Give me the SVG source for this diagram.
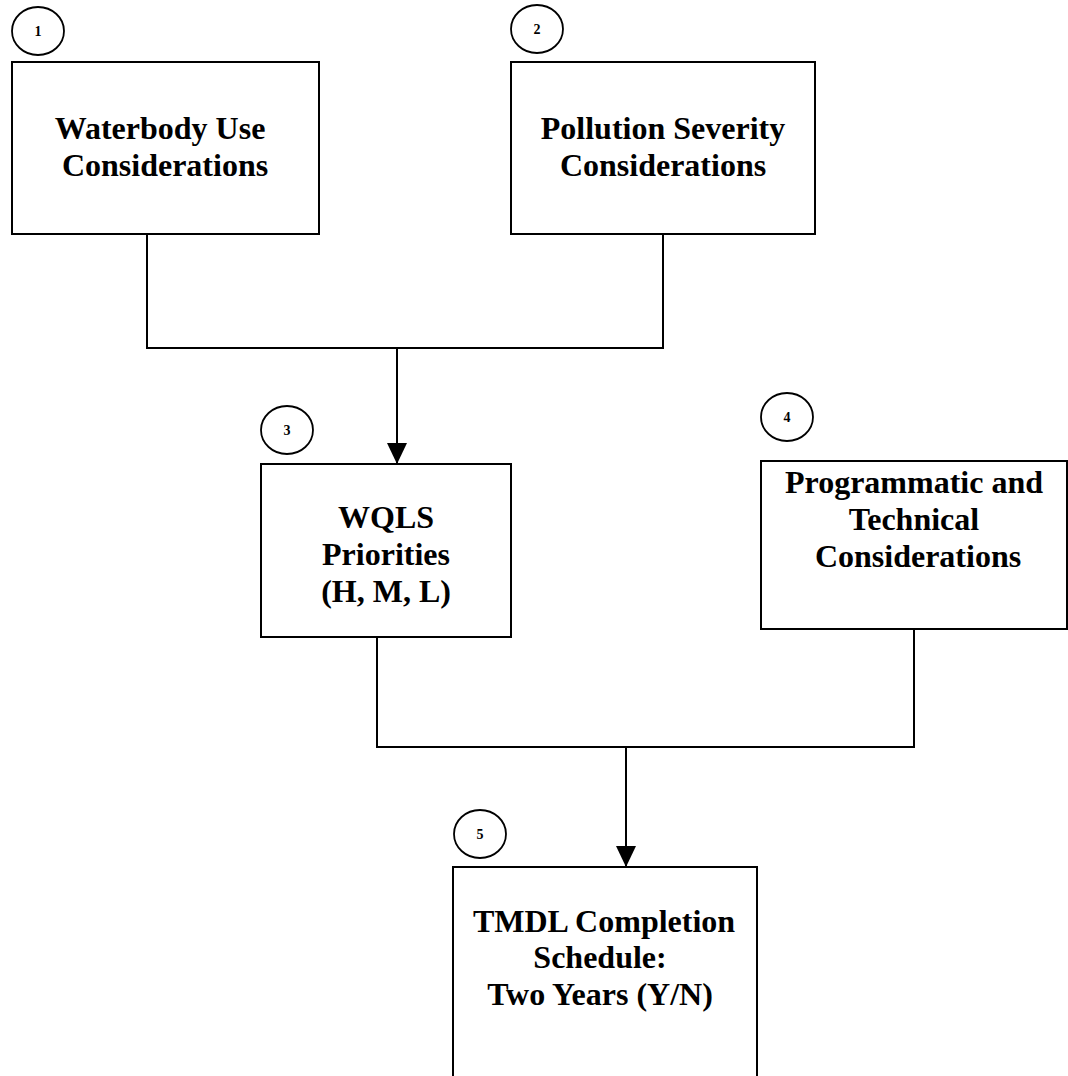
<svg xmlns="http://www.w3.org/2000/svg" width="1068" height="1076" viewBox="0 0 1068 1076">
  <style>
    .box { fill: #ffffff; stroke: #000000; stroke-width: 2; }
    .num { fill: #ffffff; stroke: #000000; stroke-width: 1.8; }
    .lbl { font-family: "Liberation Serif", "Times New Roman", serif; font-weight: bold; font-size: 32px; fill: #000000; text-anchor: middle; }
    .dig { font-family: "Liberation Serif", "Times New Roman", serif; font-weight: bold; font-size: 14px; fill: #000000; text-anchor: middle; }
    .wire { fill: none; stroke: #000000; stroke-width: 2; }
  </style>
  <defs>
    <marker id="arrow" markerUnits="userSpaceOnUse" markerWidth="22" markerHeight="22" refX="21" refY="10" orient="auto">
      <path d="M0,0 L21,10 L0,20 Z" fill="#000000"/>
    </marker>
  </defs>
  <rect width="1068" height="1076" fill="#ffffff"/>

  <g id="connectors">
    <polyline class="wire" points="147,234 147,348 663,348 663,234"/>
    <line class="wire" x1="397" y1="348" x2="397" y2="464" marker-end="url(#arrow)"/>
    <polyline class="wire" points="377,638 377,747 914,747 914,630"/>
    <line class="wire" x1="626" y1="747" x2="626" y2="867" marker-end="url(#arrow)"/>
  </g>

  <g id="node1">
    <ellipse class="num" cx="38" cy="31" rx="26" ry="24"/>
    <text class="dig" x="38" y="36">1</text>
    <rect class="box" x="12" y="62" width="307" height="172"/>
    <text class="lbl" x="160" y="139">Waterbody Use</text>
    <text class="lbl" x="165" y="176">Considerations</text>
  </g>

  <g id="node2">
    <ellipse class="num" cx="537" cy="29" rx="26" ry="24"/>
    <text class="dig" x="537" y="34">2</text>
    <rect class="box" x="511" y="62" width="304" height="172"/>
    <text class="lbl" x="663" y="139">Pollution Severity</text>
    <text class="lbl" x="663" y="176">Considerations</text>
  </g>

  <g id="node3">
    <ellipse class="num" cx="287" cy="430" rx="26" ry="24"/>
    <text class="dig" x="287" y="435">3</text>
    <rect class="box" x="261" y="464" width="250" height="173"/>
    <text class="lbl" x="386" y="528">WQLS</text>
    <text class="lbl" x="386" y="565">Priorities</text>
    <text class="lbl" x="386" y="602">(H, M, L)</text>
  </g>

  <g id="node4">
    <ellipse class="num" cx="787" cy="417" rx="26" ry="24"/>
    <text class="dig" x="787" y="422">4</text>
    <rect class="box" x="761" y="461" width="306" height="168"/>
    <text class="lbl" x="914" y="493">Programmatic and</text>
    <text class="lbl" x="914" y="530">Technical</text>
    <text class="lbl" x="918" y="567">Considerations</text>
  </g>

  <g id="node5">
    <ellipse class="num" cx="480" cy="834" rx="26" ry="24"/>
    <text class="dig" x="480" y="839">5</text>
    <rect class="box" x="453" y="867" width="304" height="230"/>
    <text class="lbl" x="604" y="932">TMDL Completion</text>
    <text class="lbl" x="600" y="968">Schedule:</text>
    <text class="lbl" x="600" y="1005">Two Years (Y/N)</text>
  </g>
</svg>
